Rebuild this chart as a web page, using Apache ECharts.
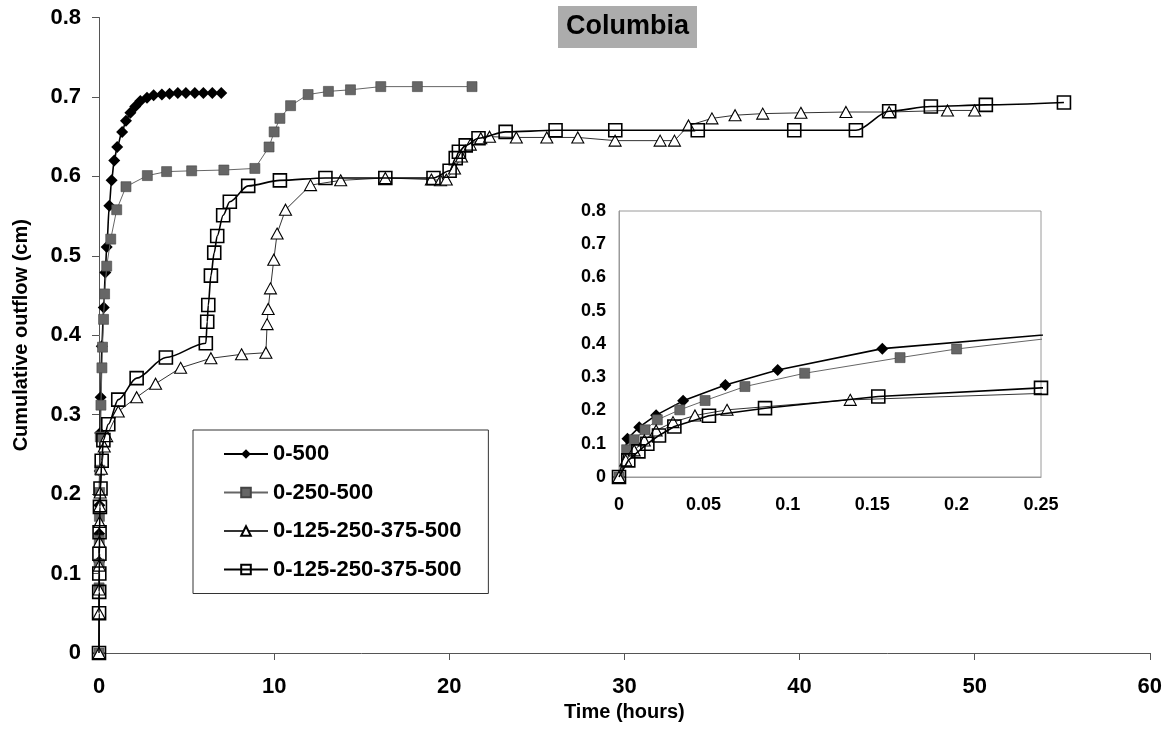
<!DOCTYPE html>
<html>
<head>
<meta charset="utf-8">
<script src="https://cdn.jsdelivr.net/npm/echarts@6/dist/echarts.min.js"></script>
<style>
  html, body { margin: 0; padding: 0; background: #fff; }
  #chart { width: 1165px; height: 738px; }
</style>
</head>
<body>
<div id="chart"></div>
<script>
// Cumulative outflow (cm) against time (hours) for four loading schedules.
const seriesLabels = ['0-500', '0-250-500', '0-125-250-375-500', '0-125-250-375-500'];
const seriesKeys = ['oneStep', 'twoStep', 'fourStepA', 'fourStepB'];

const timeTicks = [0, 10, 20, 30, 40, 50, 60];
const outflowTicks = [0, 0.1, 0.2, 0.3, 0.4, 0.5, 0.6, 0.7, 0.8];
const earlyTimeTicks = [0, 0.05, 0.1, 0.15, 0.2, 0.25];

// 0-500
const hoursOneStep = [0, 0.005, 0.012, 0.022, 0.038, 0.063, 0.094, 0.156, 0.27, 0.36, 0.44, 0.59, 0.72, 0.87,
  1.04, 1.32, 1.54, 1.79, 2.07, 2.36, 2.74, 3.12, 3.59, 4.03, 4.5, 4.96, 5.47, 5.96, 6.47, 6.98];
const outflowOneStep = [0, 0.115, 0.15, 0.186, 0.229, 0.277, 0.322, 0.386, 0.435, 0.479, 0.511, 0.563, 0.595, 0.62,
  0.637, 0.656, 0.67, 0.68, 0.688, 0.695, 0.699, 0.702, 0.703, 0.704, 0.705, 0.705, 0.705, 0.705, 0.705, 0.705];

// 0-250-500
const hoursTwoStep = [0, 0.0045, 0.009, 0.0154, 0.0227, 0.036, 0.051, 0.0746, 0.11, 0.1665, 0.2, 0.26, 0.32,
  0.44, 0.67, 1.01, 1.54, 2.76, 3.86, 5.29, 7.13, 8.9, 9.71, 10.0, 10.33, 10.94, 11.94, 13.1, 14.36, 16.09, 18.18, 21.3];
const outflowTwoStep = [0, 0.082, 0.112, 0.142, 0.172, 0.202, 0.23, 0.272, 0.312, 0.359, 0.385, 0.42, 0.452,
  0.487, 0.521, 0.558, 0.587, 0.601, 0.606, 0.607, 0.608, 0.61, 0.637, 0.656, 0.673, 0.689, 0.703, 0.707, 0.709, 0.713, 0.713, 0.713];

// 0-125-250-375-500 (triangles)
const hoursFourStepA = [0, 0.004, 0.009, 0.015, 0.022, 0.032, 0.045, 0.064, 0.137, 0.3, 0.44, 1.1, 2.15, 3.23,
  4.66, 6.39, 8.14, 9.53, 9.6, 9.66, 9.79, 9.98, 10.17, 10.65, 12.08, 13.8, 16.35, 18.98, 19.5, 19.83,
  20.3, 20.7, 21.2, 21.8, 22.3, 23.83, 25.57, 27.34, 29.47, 32.04, 32.86, 33.66, 35.0, 36.32, 37.9, 40.08,
  42.65, 45.12, 48.45, 50.0];
const outflowFourStepA = [0, 0.05, 0.08, 0.11, 0.14, 0.165, 0.185, 0.202, 0.232, 0.26, 0.273, 0.304, 0.322, 0.339,
  0.359, 0.371, 0.376, 0.378, 0.414, 0.433, 0.459, 0.495, 0.528, 0.558, 0.589, 0.595, 0.598, 0.596, 0.595, 0.596,
  0.61, 0.625, 0.64, 0.648, 0.65, 0.649, 0.649, 0.649, 0.645, 0.645, 0.645, 0.664, 0.673, 0.677, 0.679, 0.68,
  0.681, 0.681, 0.683, 0.683];

// 0-125-250-375-500 (open squares)
const hoursFourStepB = [0, 0.0055, 0.0115, 0.0168, 0.0237, 0.0328, 0.0533, 0.0865, 0.1536, 0.25, 0.53, 1.1, 2.15,
  3.82, 6.1, 6.18, 6.24, 6.39, 6.58, 6.75, 7.09, 7.47, 8.52, 10.33, 12.93, 16.35, 19.1, 20.02, 20.37, 20.55,
  20.94, 21.67, 23.22, 26.07, 29.48, 34.19, 39.7, 43.22, 45.12, 47.5, 50.64, 55.1];
const outflowFourStepB = [0, 0.05, 0.077, 0.1, 0.125, 0.152, 0.184, 0.207, 0.242, 0.268, 0.288, 0.319, 0.346,
  0.372, 0.39, 0.417, 0.438, 0.475, 0.504, 0.525, 0.551, 0.568, 0.588, 0.595, 0.598, 0.598, 0.598, 0.607, 0.623, 0.631,
  0.639, 0.648, 0.656, 0.658, 0.658, 0.658, 0.658, 0.658, 0.682, 0.688, 0.69, 0.693];

const pairs = (xs, ys) => xs.map((x, i) => [x, ys[i]]);
const dataSets = [
  pairs(hoursOneStep, outflowOneStep),
  pairs(hoursTwoStep, outflowTwoStep),
  pairs(hoursFourStepA, outflowFourStepA),
  pairs(hoursFourStepB, outflowFourStepB)
];

const FONT = 'Liberation Sans, Arial, sans-serif';
const styles = [
  { symbol: 'diamond', size: [12, 12], fill: '#000', border: '#000', bw: 0, line: '#000', lw: 1.6, smooth: 0.3 },
  { symbol: 'rect', size: 10, fill: '#666', border: '#444', bw: 0.6, line: '#666', lw: 1, smooth: false },
  { symbol: 'triangle', size: [12, 11], fill: '#fff', border: '#000', bw: 1.1, line: '#333', lw: 1, smooth: false },
  { symbol: 'rect', size: 13, fill: 'rgba(255,255,255,0)', border: '#000', bw: 1.6, line: '#000', lw: 1.6, smooth: 0.3 }
];

function makeSeries(gridIdx, i) {
  const s = styles[i];
  return {
    name: seriesKeys[i],
    type: 'line',
    xAxisIndex: gridIdx,
    yAxisIndex: gridIdx,
    data: dataSets[i],
    clip: true,
    symbol: s.symbol,
    symbolSize: s.size,
    showAllSymbol: true,
    smooth: gridIdx === 0 ? s.smooth : false,
    smoothMonotone: 'x',
    itemStyle: { color: s.fill, borderColor: s.border, borderWidth: s.bw },
    lineStyle: { color: s.line, width: s.lw },
    emphasis: { disabled: true },
    z: 2 + i
  };
}

const step = arr => +(arr[1] - arr[0]).toFixed(6);
const axisFont = { fontFamily: FONT, fontWeight: 'bold', color: '#000' };

const chart = echarts.init(document.getElementById('chart'));
chart.setOption({
  animation: false,
  backgroundColor: '#fff',
  title: {
    text: 'Columbia',
    left: 558,
    top: 6,
    padding: [6, 8, 6, 8],
    backgroundColor: '#acacac',
    textStyle: { fontFamily: FONT, fontWeight: 'bold', fontSize: 27, color: '#000', lineHeight: 30 }
  },
  legend: {
    data: seriesKeys,
    orient: 'vertical',
    left: 193,
    top: 430,
    padding: [13, 27, 13, 30],
    itemGap: 16.5,
    itemWidth: 44,
    itemHeight: 12,
    borderColor: '#333',
    borderWidth: 1,
    backgroundColor: '#fff',
    selectedMode: false,
    formatter: name => seriesLabels[seriesKeys.indexOf(name)],
    textStyle: { fontFamily: FONT, fontWeight: 'bold', fontSize: 22, color: '#000', lineHeight: 22 }
  },
  grid: [
    { left: 99, top: 17.5, right: 14, bottom: 85 },
    { left: 619, top: 211, width: 422, height: 266, show: true, backgroundColor: '#fff', borderColor: '#9a9a9a', borderWidth: 1, z: 10 }
  ],
  xAxis: [
    {
      gridIndex: 0, type: 'value',
      min: timeTicks[0], max: timeTicks[timeTicks.length - 1], interval: step(timeTicks),
      name: 'Time (hours)', nameLocation: 'middle', nameGap: 47,
      nameTextStyle: Object.assign({ fontSize: 20 }, axisFont),
      splitLine: { show: false },
      axisLine: { lineStyle: { color: '#555', width: 1 } },
      axisTick: { length: 7, lineStyle: { color: '#555' } },
      axisLabel: Object.assign({ fontSize: 22, margin: 23 }, axisFont)
    },
    {
      gridIndex: 1, type: 'value',
      min: earlyTimeTicks[0], max: earlyTimeTicks[earlyTimeTicks.length - 1], interval: step(earlyTimeTicks),
      splitLine: { show: false },
      axisLine: { lineStyle: { color: '#9a9a9a', width: 1 } },
      axisTick: { show: false },
      axisLabel: Object.assign({ fontSize: 18, margin: 19 }, axisFont),
      z: 10
    }
  ],
  yAxis: [
    {
      gridIndex: 0, type: 'value',
      min: outflowTicks[0], max: outflowTicks[outflowTicks.length - 1], interval: step(outflowTicks),
      name: 'Cumulative outflow (cm)', nameLocation: 'middle', nameGap: 68,
      nameTextStyle: Object.assign({ fontSize: 20 }, axisFont),
      splitLine: { show: false },
      axisLine: { show: true, lineStyle: { color: '#555', width: 1 } },
      axisTick: { show: true, length: 7, lineStyle: { color: '#555' } },
      axisLabel: Object.assign({ fontSize: 22, margin: 18 }, axisFont)
    },
    {
      gridIndex: 1, type: 'value',
      min: outflowTicks[0], max: outflowTicks[outflowTicks.length - 1], interval: step(outflowTicks),
      splitLine: { show: false },
      axisLine: { show: true, lineStyle: { color: '#9a9a9a', width: 1 } },
      axisTick: { show: false },
      axisLabel: Object.assign({ fontSize: 18, margin: 13 }, axisFont),
      z: 10
    }
  ],
  series: [0, 1, 2, 3].map(i => makeSeries(0, i)).concat(
    [0, 1, 2, 3].map(i => Object.assign(makeSeries(1, i), { name: seriesKeys[i] + 'Early', z: 12 + i }))
  )
});
</script>
</body>
</html>
